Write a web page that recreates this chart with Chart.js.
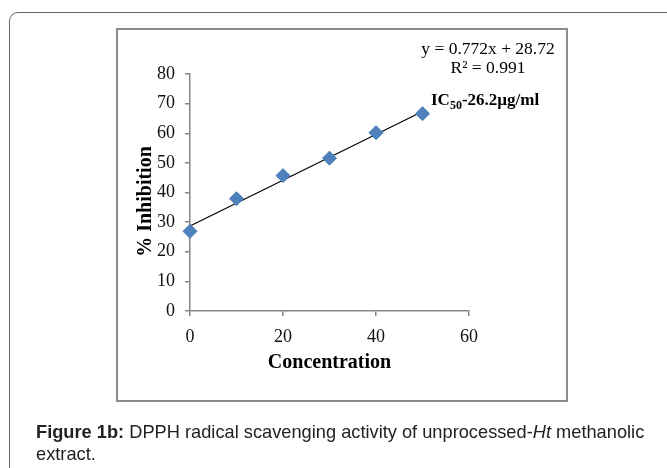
<!DOCTYPE html>
<html>
<head>
<meta charset="utf-8">
<script src="https://cdn.jsdelivr.net/npm/chart.js@4.4.1/dist/chart.umd.min.js"></script>
<style>
  html, body { margin:0; padding:0; background:#fff; width:667px; height:468px; overflow:hidden; }
  #outer { position:absolute; left:9px; top:12px; width:700px; height:520px; border:1.5px solid #666; border-radius:9px; box-sizing:border-box; }
  #inner { position:absolute; left:116px; top:28px; width:452px; height:374px; border:2px solid #8c8c8c; box-sizing:border-box; }
  #wrap { position:absolute; left:0; top:0; width:667px; height:468px; }
  #caption { position:absolute; left:36px; top:421px; font-family:"Liberation Sans",Arial,sans-serif; font-size:19px; line-height:22px; color:#222; white-space:nowrap; transform:scaleX(0.96); transform-origin:left top; }
</style>
</head>
<body>
<div id="outer"></div>
<div id="inner"></div>
<div id="wrap"><canvas id="c" width="667" height="468"></canvas></div>
<div id="caption"><b>Figure 1b:</b> DPPH radical scavenging activity of unprocessed-<i>Ht</i> methanolic<br>extract.</div>
<script>
// Data
const concentration = [0, 10, 20, 30, 40, 50];
const inhibition = [26.9, 37.9, 45.7, 51.6, 60.2, 66.6];
// Linear trendline endpoints (consistent with y = 0.772x + 28.72)
const trendX = [0, 50];
const trendY = [28.72, 67.32];
const xTicks = [0, 20, 40, 60];
const yTicks = [0, 10, 20, 30, 40, 50, 60, 70, 80];
const xTitle = "Concentration";
const yTitle = "% Inhibition";
const equationText = "y = 0.772x + 28.72";
const r2Text = "R² = 0.991";

const serif = "'Liberation Serif', 'Times New Roman', serif";

const textPlugin = {
  id: 'texts',
  afterDraw(chart) {
    const ctx = chart.ctx;
    const ca = chart.chartArea;
    ctx.save();
    ctx.fillStyle = '#000';
    // y title
    ctx.font = "bold 20px " + serif;
    ctx.textAlign = 'center';
    ctx.textBaseline = 'middle';
    ctx.save();
    ctx.translate(146, (ca.top + ca.bottom) / 2 + 9);
    ctx.rotate(-Math.PI / 2);
    ctx.fillText(yTitle, 0, 0);
    ctx.restore();
    // x title
    ctx.fillText(xTitle, (ca.left + ca.right) / 2, 363);
    // equation
    ctx.font = "17.5px " + serif;
    ctx.fillText(equationText, 488, 49);
    ctx.fillText(r2Text, 488, 68);
    // IC50 label
    ctx.font = "bold 17px " + serif;
    ctx.textAlign = 'left';
    ctx.textBaseline = 'alphabetic';
    let x = 431, y = 105;
    ctx.fillText("IC", x, y);
    x += ctx.measureText("IC").width;
    ctx.font = "bold 12px " + serif;
    ctx.fillText("50", x, y + 4);
    x += ctx.measureText("50").width;
    ctx.font = "bold 17px " + serif;
    ctx.fillText("-26.2µg/ml", x, y);
    ctx.restore();
  }
};

new Chart(document.getElementById('c'), {
  type: 'scatter',
  data: {
    datasets: [
      {
        label: 'Trend',
        type: 'line',
        data: trendX.map((v, i) => ({ x: v, y: trendY[i] })),
        borderColor: '#000',
        borderWidth: 1.2,
        pointRadius: 0,
        fill: false,
        clip: false,
        order: 2
      },
      {
        label: '% Inhibition',
        data: concentration.map((v, i) => ({ x: v, y: inhibition[i] })),
        pointStyle: 'rectRot',
        pointRadius: 7,
        backgroundColor: '#4f81bd',
        borderColor: '#4a7ab5',
        borderWidth: 1,
        clip: false,
        order: 1
      }
    ]
  },
  options: {
    responsive: false,
    animation: false,
    events: [],
    layout: { padding: { left: 0, top: 74, right: 198, bottom: 0 } },
    plugins: { legend: { display: false }, tooltip: { enabled: false }, title: { display: false } },
    scales: {
      x: {
        type: 'linear',
        min: 0, max: 60,
        afterFit(scale) { scale.height = 157; },
        afterBuildTicks(scale) { scale.ticks = xTicks.map(v => ({ value: v })); },
        border: { color: '#868686', width: 1.5 },
        grid: { drawOnChartArea: false, drawTicks: true, tickLength: 5, color: '#868686', lineWidth: 1.5 },
        ticks: { color: '#111', font: { family: serif, size: 18 }, padding: 10, maxRotation: 0 }
      },
      y: {
        type: 'linear',
        min: 0, max: 80,
        afterFit(scale) { scale.width = 190; },
        afterBuildTicks(scale) { scale.ticks = yTicks.map(v => ({ value: v })); },
        border: { color: '#868686', width: 1.5 },
        grid: { drawOnChartArea: false, drawTicks: true, tickLength: 5, color: '#868686', lineWidth: 1.5 },
        ticks: { color: '#111', font: { family: serif, size: 18 }, padding: 10 }
      }
    }
  },
  plugins: [textPlugin]
});
</script>
</body>
</html>
